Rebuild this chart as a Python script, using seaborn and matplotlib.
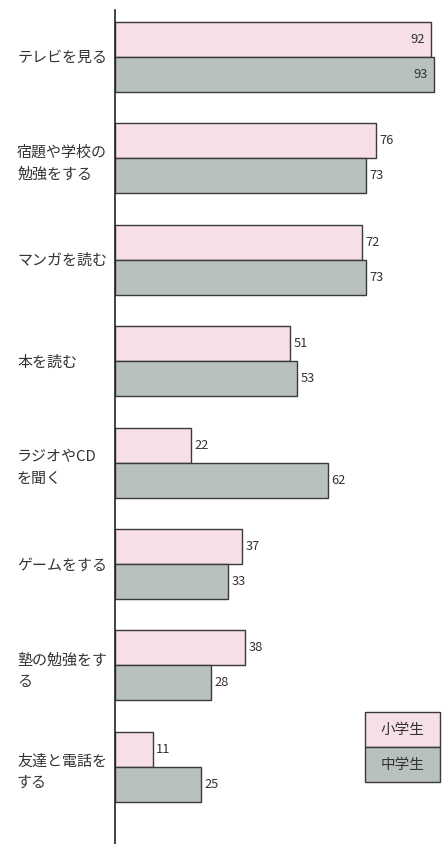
import matplotlib
matplotlib.use("Agg")
import matplotlib.pyplot as plt
import seaborn as sns
import pandas as pd
from matplotlib.patches import Rectangle

categories = ["テレビを見る", "宿題や学校の\n勉強をする", "マンガを読む", "本を読む",
              "ラジオやCD\nを聞く", "ゲームをする", "塾の勉強をす\nる", "友達と電話を\nする"]
elementary = [92, 76, 72, 51, 22, 37, 38, 11]
junior = [93, 73, 73, 53, 62, 33, 28, 25]
series = ["小学生", "中学生"]
colors = ["#f6dfe8", "#b8c0c0"]

sns.set_theme(style="white")
plt.rcParams['font.family'] = ['Noto Sans CJK JP', 'DejaVu Sans']

df = pd.DataFrame({
    "cat": categories * 2,
    "val": elementary + junior,
    "grp": [series[0]] * len(categories) + [series[1]] * len(categories),
})

W, H = 446, 844
fig = plt.figure(figsize=(W / 100, H / 100), dpi=100)
ax = fig.add_axes([115 / W, 0, 331 / W, 834 / H])

sns.barplot(data=df, y="cat", x="val", hue="grp", order=categories,
            hue_order=series, palette=colors, width=0.69, orient="h",
            edgecolor="#3a3a3a", linewidth=1.0, saturation=1, ax=ax, legend=False)

ax.set_xlim(0, 96.4)
ax.set_ylim(7.76, -0.46)
ax.set_xlabel("")
ax.set_ylabel("")
ax.set_xticks([])
for s in ["top", "right", "bottom"]:
    ax.spines[s].set_visible(False)
ax.spines["left"].set_color("#222222")
ax.spines["left"].set_linewidth(1.2)

ax.tick_params(axis="y", length=0, pad=70.5, labelsize=10.8, labelcolor="#333333")
for lab in ax.get_yticklabels():
    lab.set_ha("left")
    lab.set_multialignment("left")
    lab.set_linespacing(1.7)

for cont in ax.containers:
    for bar in cont:
        v = bar.get_width()
        yc = bar.get_y() + bar.get_height() / 2
        if v > 90:
            ax.annotate(f"{int(v)}", (v, yc), xytext=(-4.5, 0), textcoords="offset points",
                        ha="right", va="center", fontsize=9.3, color="#333333")
        else:
            ax.annotate(f"{int(v)}", (v, yc), xytext=(2.5, 0), textcoords="offset points",
                        ha="left", va="center", fontsize=9.3, color="#333333")

# legend box
lx0, lw = 365 / W, 75 / W
tops = [712, 747]
for name, c, t in zip(series, colors, tops):
    fy = 1 - (t + 35) / H
    fig.patches.append(Rectangle((lx0, fy), lw, 35 / H, transform=fig.transFigure,
                                 facecolor=c, edgecolor="#3a3a3a", linewidth=1.0))
    fig.text(lx0 + lw / 2, fy + 17.5 / H, name, ha="center", va="center",
             fontsize=10.5, color="#333333")

fig.savefig("out.png", dpi=100, facecolor="white")
